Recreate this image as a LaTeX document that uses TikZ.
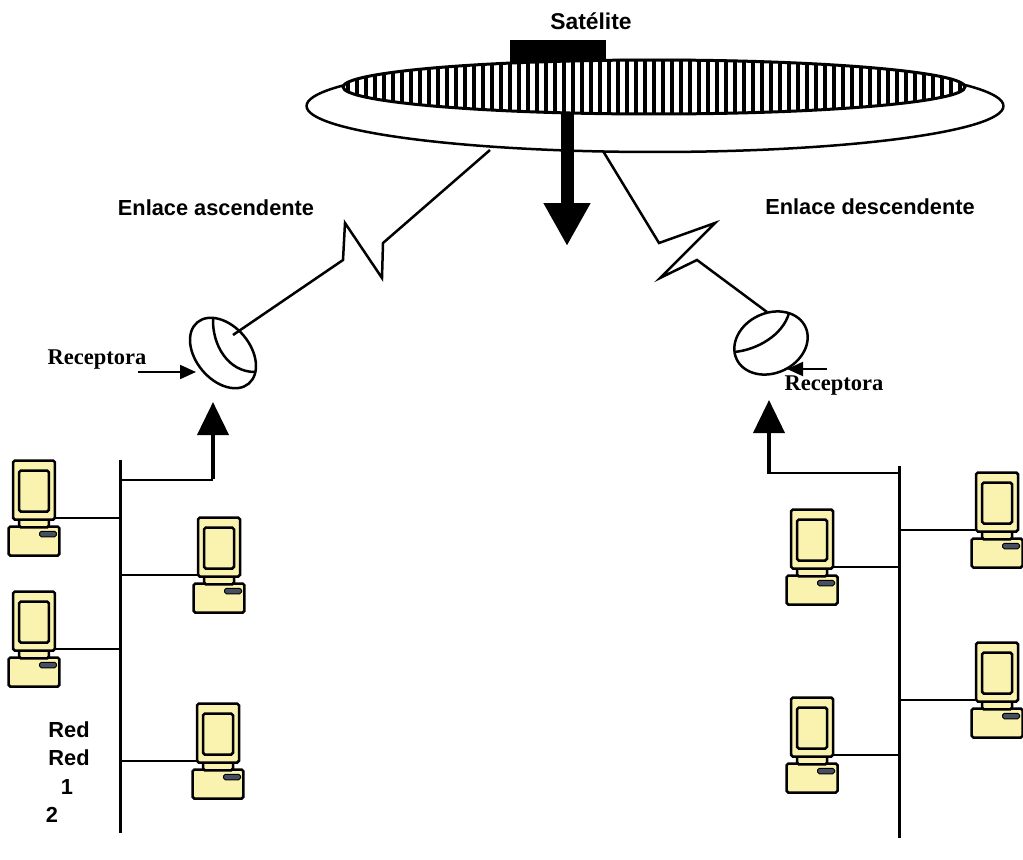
\documentclass[tikz,border=0pt]{standalone}
\usepackage{fontspec}
\setmainfont{Liberation Serif}
\setsansfont{Liberation Sans}
\usepackage{tikz}
\usetikzlibrary{arrows.meta,shapes.geometric}
\definecolor{pcfill}{RGB}{250,242,175}
\definecolor{slotfill}{RGB}{70,80,95}

\tikzset{
  pcpart/.style={draw,line width=0.05cm,fill=pcfill,rounded corners=1pt,inner sep=0pt},
  pcslot/.style={draw,line width=0.02cm,fill=slotfill,rounded corners=1pt,inner sep=0pt,
    minimum width=0.34cm,minimum height=0.11cm},
  pc/.pic={
    \node[pcpart,minimum width=1.02cm,minimum height=0.58cm] (-base) at (0,-51) {};
    \node[pcpart,minimum width=0.6cm,minimum height=0.17cm] (-neck) at (0,-33) {};
    \node[pcpart,minimum width=0.84cm,minimum height=1.18cm] (-mon) at (0,0) {};
    \node[pcpart,minimum width=0.6cm,minimum height=0.82cm] (-scr) at (0,-1) {};
    \node[pcslot] (-slot) at (14,-44) {};
  }
}

\begin{document}
\begin{tikzpicture}[x=0.02cm,y=0.02cm,
  lbl/.style={font=\sffamily\bfseries\fontsize{12.4}{14}\selectfont,inner sep=0pt},
  rcp/.style={font=\rmfamily\bfseries\fontsize{12.8}{15}\selectfont,inner sep=0pt},
  link/.style={line width=0.05cm},
  bus/.style={line width=0.06cm},
  dish/.style={draw,ellipse,line width=0.05cm,inner sep=0pt},
  feed/.style={line width=0.08cm,-{Triangle[length=0.66cm,width=0.62cm]}},
  beam/.style={line width=0.26cm,-{Triangle[length=0.86cm,width=0.88cm]}},
  ptr/.style={line width=0.04cm,-{Triangle[length=0.32cm,width=0.28cm]}},
  hatch/.style={draw,line width=0.06cm,ellipse,inner sep=0pt,fill=white,
    path picture={\foreach \k in {-35,...,35}
      \draw[line width=0.08cm] ([xshift=\k*0.18cm]path picture bounding box.south)
        -- ([xshift=\k*0.18cm]path picture bounding box.north);}}
]
\useasboundingbox (0,0) rectangle (1023,-859);

% satellite
\node[draw,ellipse,line width=0.05cm,fill=white,inner sep=0pt,
      minimum width=13.94cm,minimum height=1.84cm] (disk) at (655,-106) {};
\node[hatch,minimum width=12.44cm,minimum height=1.08cm] (panel) at (654,-87) {};
\node[fill=black,inner sep=0pt,minimum width=1.92cm,minimum height=0.44cm] (body) at (558,-51) {};
\node[lbl,font=\sffamily\bfseries\fontsize{13}{15}\selectfont] (sat) at (591,-21) {Satélite};

\coordinate (beamtop) at (567,-112);
\coordinate (beamtip) at (567,-246);
\draw[beam] (beamtop) -- (beamtip);

% ground stations
\node[dish,minimum width=1.6cm,minimum height=1.08cm,rotate=-50] (dishL) at (223,-353) {};
\draw[link] (213,-318) .. controls (212,-345) and (228,-372) .. (255,-372);
\node[dish,minimum width=1.52cm,minimum height=1.2cm,rotate=25] (dishR) at (771,-343) {};
\draw[link] (734,-352) .. controls (757,-350) and (783,-335) .. (789,-313);

\coordinate (upsat) at (490,-150);
\coordinate (upend) at (233,-335);
\coordinate (downsat) at (603,-151);
\coordinate (downend) at (767,-312);
\draw[link] (upsat) -- (383,-243) -- (382,-278) -- (345,-223) -- (343,-260) -- (upend);
\draw[link] (downsat) -- (659,-243) -- (715,-223) -- (660,-278) -- (697,-260) -- (downend);

\node[lbl] (upl) at (216,-208) {Enlace ascendente};
\node[lbl] (dnl) at (870,-207) {Enlace descendente};

\node[rcp] (rxL) at (97,-360) {Receptora};
\node[rcp] (rxR) at (834,-386) {Receptora};
\coordinate (rxLtail) at (138,-372);
\coordinate (rxLtip) at (196,-372);
\coordinate (rxRtail) at (827,-369);
\coordinate (rxRtip) at (787,-369);
\draw[ptr] (rxLtail) -- (rxLtip);
\draw[ptr] (rxRtail) -- (rxRtip);

% network 1
\coordinate (busLtop) at (120,-460);
\coordinate (busLbot) at (120,-833);
\draw[bus] (busLtop) -- (busLbot);
\coordinate (feedL) at (213,-480);
\coordinate (tipL) at (213,-402);
\draw[link] (feedL -| busLtop) -- (feedL);
\draw[feed] ([yshift=0.02cm]feedL) -- (tipL);

\pic (L1) at (34,-490) {pc};
\pic (L2) at (34,-621) {pc};
\pic (L3) at (219,-547) {pc};
\pic (L4) at (218,-733) {pc};
\foreach \p in {L1,L2} {
  \coordinate (\p-tap) at ([yshift=0.06cm]\p-mon.south east);
  \draw[link] (\p-tap) -- (\p-tap -| busLtop);
}
\foreach \p in {L3,L4} {
  \coordinate (\p-tap) at ([yshift=0.06cm]\p-mon.south west);
  \draw[link] (\p-tap) -- (\p-tap -| busLtop);
}

\node[lbl] (red1) at (69,-730) {Red};
\node[lbl] (red2) at (69,-758) {Red};
\node[lbl] (n1) at (67,-787) {1};
\node[lbl] (n2) at (52,-815) {2};

% network 2
\coordinate (busRtop) at (899,-466);
\coordinate (busRbot) at (899,-838);
\draw[bus] (busRtop) -- (busRbot);
\coordinate (feedR) at (769,-473);
\coordinate (tipR) at (769,-400);
\draw[link] (feedR -| busRtop) -- (feedR);
\draw[feed] ([yshift=-0.02cm]feedR) -- (tipR);

\pic (R1) at (997,-502) {pc};
\pic (R2) at (812,-539) {pc};
\pic (R3) at (997,-672) {pc};
\pic (R4) at (812,-727) {pc};
\foreach \p in {R1,R3} {
  \coordinate (\p-tap) at ([yshift=0.06cm]\p-mon.south west);
  \draw[link] (\p-tap) -- (\p-tap -| busRtop);
}
\foreach \p in {R2,R4} {
  \coordinate (\p-tap) at ([yshift=0.06cm]\p-mon.south east);
  \draw[link] (\p-tap) -- (\p-tap -| busRtop);
}
\end{tikzpicture}
\end{document}
